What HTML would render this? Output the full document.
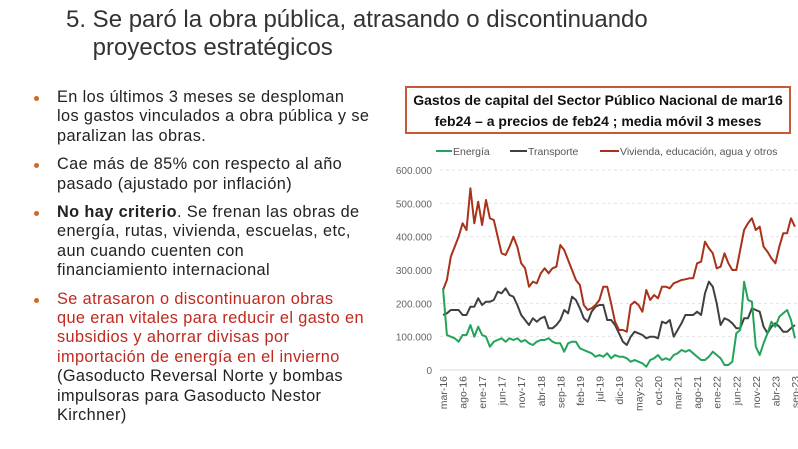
<!DOCTYPE html>
<html><head><meta charset="utf-8"><style>
body{margin:0;width:798px;height:449px;background:#fff;overflow:hidden;position:relative;font-family:"Liberation Sans",sans-serif}
.t{position:absolute;left:66px;top:6px;font-size:24px;line-height:28px;color:#333;}
ul{position:absolute;left:34px;top:88px;margin:0;padding:0;list-style:none;width:360px}
li{position:relative;padding-left:23px;font-size:16.3px;line-height:19.4px;letter-spacing:0.4px;color:#222;margin-bottom:9px;white-space:nowrap}
li:before{content:"";position:absolute;left:0;top:8px;width:5px;height:5px;border-radius:50%;background:#d2691e}
.r{color:#c0281e}
.box{position:absolute;left:405px;top:86px;width:386px;height:48px;border:2px solid #c65a35;font-weight:bold;font-size:14px;line-height:21px;text-align:center;color:#111;box-sizing:border-box;padding-top:2px;white-space:nowrap}
svg{position:absolute;left:0;top:0}
</style></head><body>
<div class="t">5. Se paró la obra pública, atrasando o discontinuando<br>&nbsp;&nbsp;&nbsp;&nbsp;proyectos estratégicos</div>
<ul>
<li>En los últimos 3 meses se desploman<br>los gastos vinculados a obra pública y se<br>paralizan las obras.</li>
<li>Cae más de 85% con respecto al año<br>pasado (ajustado por inflación)</li>
<li><b>No hay criterio</b>. Se frenan las obras de<br>energía, rutas, vivienda, escuelas, etc,<br>aun cuando cuenten con<br>financiamiento internacional</li>
<li><span class="r">Se atrasaron o discontinuaron obras<br>que eran vitales para reducir el gasto en<br>subsidios y ahorrar divisas por<br>importación de energía en el invierno</span><br>(Gasoducto Reversal Norte y bombas<br>impulsoras para Gasoducto Nestor<br>Kirchner)</li>
</ul>
<div class="box">Gastos de capital del Sector Público Nacional de mar16<br>feb24 – a precios de feb24 ; media móvil 3 meses</div>
<svg width="798" height="449" id="s" font-family="Liberation Sans, sans-serif"></svg>
<script>
var R=[240,270,340,370,400,440,420,545,440,505,435,510,455,450,400,350,345,370,400,370,320,305,250,265,260,290,305,290,305,310,375,360,330,300,270,255,195,180,185,195,210,250,250,200,145,120,120,115,195,205,195,175,240,210,225,215,250,250,245,260,265,270,272,275,275,320,325,385,365,350,305,310,350,320,300,300,360,420,440,455,420,430,370,355,335,320,370,410,410,455,430];
var G=[245,105,100,95,85,105,105,135,100,130,105,100,70,85,90,95,85,95,90,95,85,90,80,75,85,90,90,95,85,80,80,55,80,85,85,65,60,55,50,40,45,40,50,35,45,40,40,35,25,30,25,20,10,30,35,45,30,35,30,45,50,60,55,60,50,40,30,30,40,55,45,35,15,15,25,110,120,265,210,205,70,45,80,110,145,130,160,170,180,150,95];
var D=[165,170,180,180,180,165,165,190,190,215,195,205,205,210,235,230,245,225,220,195,165,150,135,155,145,155,160,125,125,135,150,180,170,220,210,185,155,145,175,190,195,195,150,150,135,110,85,75,100,115,110,105,95,100,100,95,145,140,150,100,120,140,165,165,165,175,165,230,265,250,200,135,155,150,140,125,125,155,155,185,180,175,130,110,130,140,130,115,115,125,135];
var s='';
function X(m){return 443+m*3.91}function Y(v){return 370-v/3}
for(var i=0;i<=6;i++){var y=Y(i*100);s+='<line x1="440" x2="798" y1="'+y+'" y2="'+y+'" stroke="'+(i?'#e2e2e2':'#d8d8d8')+'" stroke-dasharray="'+(i?'3,3':'')+'"/>';s+='<text x="432" y="'+(y+4)+'" font-size="10" fill="#666" text-anchor="end">'+(i?i*100+'.000':'0')+'</text>';}
function P(a,c){var p=a.map(function(v,m){return X(m).toFixed(1)+','+Y(v).toFixed(1)}).join(' ');return '<polyline points="'+p+'" fill="none" stroke="'+c+'" stroke-width="2" stroke-linejoin="round"/>'}
s+=P(D,'#404040')+P(R,'#a8321a')+P(G,'#23a45a');
var L=['mar-16','ago-16','ene-17','jun-17','nov-17','abr-18','sep-18','feb-19','jul-19','dic-19','may-20','oct-20','mar-21','ago-21','ene-22','jun-22','nov-22','abr-23','sep-23'];
L.forEach(function(t,k){var x=X(k*5)+4;s+='<text transform="translate('+x+',376) rotate(-90)" font-size="10.5" fill="#555" text-anchor="end">'+t+'</text>'});
s+='<line x1="436" x2="452" y1="151" y2="151" stroke="#23a45a" stroke-width="2"/><text x="453" y="155" font-size="10.5" fill="#555">Energía</text>';
s+='<line x1="510" x2="527" y1="151" y2="151" stroke="#404040" stroke-width="2"/><text x="528" y="155" font-size="10.5" fill="#555">Transporte</text>';
s+='<line x1="600" x2="619" y1="151" y2="151" stroke="#a8321a" stroke-width="2"/><text x="620" y="155" font-size="10.5" fill="#555">Vivienda, educación, agua y otros</text>';
document.getElementById('s').innerHTML=s;
</script>
</body></html>
